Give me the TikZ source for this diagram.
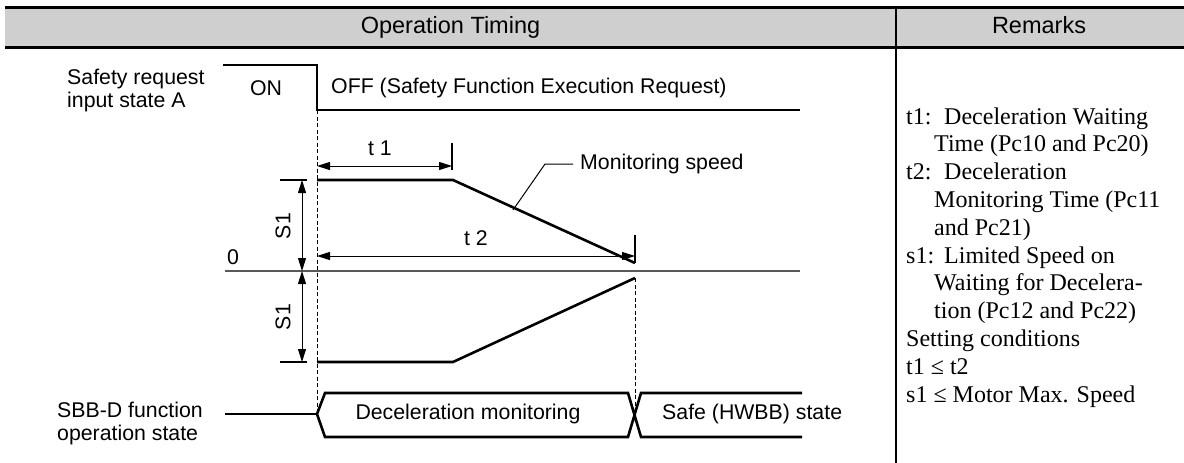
\documentclass[tikz,border=0pt]{standalone}
\usepackage{fontspec}
\setmainfont{Liberation Serif}
\newfontfamily\arial{Liberation Sans}
\usetikzlibrary{arrows.meta}
\begin{document}
\begin{tikzpicture}[x=1pt,y=-1pt,
  lab/.style={font=\arial\fontsize{21.3}{22.5}\selectfont, inner sep=0pt},
  head/.style={font=\arial\fontsize{23.5}{26}\selectfont, inner sep=0pt, anchor=base},
  rem/.style={font=\fontsize{24}{27.8}\selectfont, inner sep=0pt, anchor=base west},
  wave/.style={line width=2.6pt, line join=miter},
  dim/.style={line width=1pt},
  tick/.style={line width=1.8pt},
  dimarrow/.style={dim, {Triangle[length=13pt,width=8pt]}-{Triangle[length=13pt,width=8pt]}},
  guide/.style={line width=0.9pt, dash pattern=on 4pt off 2.5pt},
  leader/.style={line width=1pt},
]
\useasboundingbox (0,0) rectangle (1184,463);
% header
\fill[gray!38] (5,7.5) rectangle (1184,47.5);
\draw[line width=2.2pt] (5,7.5) -- (1184,7.5);
\draw[line width=2.8pt] (5,47.5) -- (1184,47.5);
\draw[line width=2.4pt] (896,7.5) -- (896,463);
\node[head] (hOT) at (450.5,34) {Operation Timing};
\node[head] (hR) at (1039,34) {Remarks};

% safety request signal
\coordinate (sa) at (223,65);
\coordinate (sb) at (317,65);
\coordinate (sc) at (317,110);
\coordinate (sd) at (800,110);
\draw[wave] (sa) -- (sb) -- (sc) -- (sd);
\node[lab, anchor=west, align=left] (sr) at (67,90.75) {Safety request\\input state A};
\node[lab] (on) at (266,88) {ON};
\node[lab, anchor=west] (off) at (331,88) {OFF (Safety Function Execution Request)};

% speed
\coordinate (v0) at (317,180);
\coordinate (v1) at (453,180);
\coordinate (v2) at (635,263);
\coordinate (w0) at (317,362);
\coordinate (w1) at (453,362);
\coordinate (w2) at (635,278);
\coordinate (z0) at (225,271);
\coordinate (z1) at (800,271);
\draw[line width=2pt, black!65] (z0) -- (z1);
\draw[wave] (v0) -- (v1) -- (v2);
\draw[wave] (w0) -- (w1) -- (w2);
\node[lab] (zero) at (233,257) {0};

% guides
\coordinate (g1) at (317,414);
\coordinate (g2) at (635,414);
\draw[guide] (sc) -- (g1);
\draw[guide] (w2) -- (g2);

% t1, t2
\coordinate (t1a) at (317,166);
\coordinate (t1b) at (452,166);
\coordinate (t1u) at (452,143);
\coordinate (t1d) at (452,170);
\draw[dimarrow] (t1a) -- (t1b);
\draw[tick] (t1u) -- (t1d);
\node[lab] (t1l) at (380,148) {t 1};
\coordinate (t2a) at (317,256);
\coordinate (t2b) at (635,256);
\coordinate (t2u) at (635,235);
\draw[dimarrow] (t2a) -- (t2b);
\draw[tick] (t2u) -- (v2);
\node[lab] (t2l) at (476,238) {t 2};

% S1 dims
\coordinate (s1t) at (302,180);
\coordinate (s1m) at (302,271);
\coordinate (s1b) at (302,362);
\draw[dimarrow] (s1t) -- (s1m);
\draw[dimarrow] (s1m) -- (s1b);
\coordinate (k1a) at (280,180);
\coordinate (k1b) at (307,180);
\coordinate (k2a) at (280,362);
\coordinate (k2b) at (307,362);
\draw[tick] (k1a) -- (k1b);
\draw[tick] (k2a) -- (k2b);
\node[lab, rotate=90] (s1u) at (283,226) {S1};
\node[lab, rotate=90] (s1d) at (283,317) {S1};

% monitoring speed leader
\coordinate (m0) at (513,210);
\coordinate (m1) at (545,164);
\coordinate (m2) at (573,164);
\draw[leader] (m0) -- (m1) -- (m2);
\node[lab, anchor=west] (ms) at (580,164) {Monitoring speed};

% SBB-D state
\coordinate (b0) at (225,414);
\draw[wave] (b0) -- (g1);
\coordinate (p1) at (802,393);
\coordinate (p2) at (641,393);
\coordinate (p3) at (628,437);
\coordinate (p4) at (325,437);
\coordinate (p6) at (325,393);
\coordinate (p7) at (628,393);
\coordinate (p8) at (641,437);
\coordinate (p9) at (802,437);
\draw[wave] (p1) -- (p2) -- (p3) -- (p4) -- (g1) -- (p6) -- (p7) -- (p8) -- (p9);
\node[lab, anchor=west, align=left] (sbb) at (57,423.25) {SBB-D function\\operation state};
\node[lab] (dm) at (468,414) {Deceleration monitoring};
\node[lab, anchor=west] (safe) at (662,414) {Safe (HWBB) state};

% remarks
\node[rem] (r1a) at (906,124) {t1:};
\node[rem] (r1b) at (944,124) {Deceleration Waiting};
\node[rem] (r1c) at (934,151.8) {Time (Pc10 and Pc20)};
\node[rem] (r2a) at (906,179.6) {t2:};
\node[rem] (r2b) at (944,179.6) {Deceleration};
\node[rem] (r2c) at (934,207.4) {Monitoring Time (Pc11};
\node[rem] (r2d) at (934,235.2) {and Pc21)};
\node[rem] (r3a) at (906,263) {s1:};
\node[rem] (r3b) at (944,263) {Limited Speed on};
\node[rem] (r3c) at (934,290.8) {Waiting for Decelera-};
\node[rem] (r3d) at (934,318.6) {tion (Pc12 and Pc22)};
\node[rem] (r4) at (906,346.4) {Setting conditions};
\node[rem] (r5) at (906,374.2) {t1 ≤ t2};
\node[rem] (r6) at (906,402) {s1 ≤ Motor Max. Speed};
\end{tikzpicture}
\end{document}
